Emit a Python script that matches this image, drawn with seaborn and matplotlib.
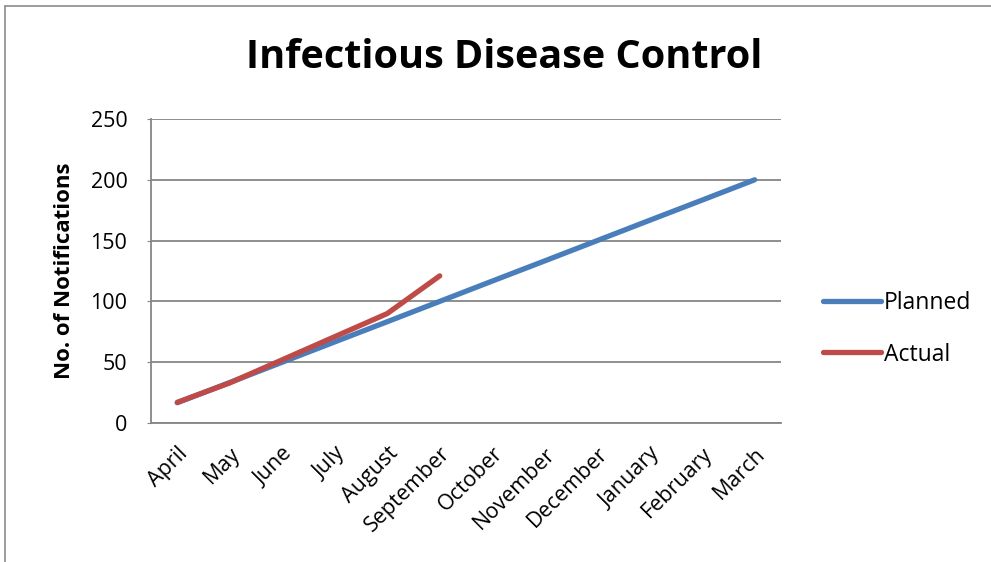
import pandas as pd
import matplotlib.pyplot as plt
import seaborn as sns
from matplotlib.lines import Line2D

# data
months = ['April', 'May', 'June', 'July', 'August', 'September', 'October',
          'November', 'December', 'January', 'February', 'March']
planned = [16.7, 33.3, 50, 66.7, 83.3, 100, 116.7, 133.3, 150, 166.7, 183.3, 200]
actual = [17, 33, 52, 71, 90, 121]

df = pd.concat([
    pd.DataFrame({'Month': months, 'Value': planned, 'Series': 'Planned'}),
    pd.DataFrame({'Month': months[:len(actual)], 'Value': actual, 'Series': 'Actual'}),
])

sns.set_style('white')
plt.rcParams['font.family'] = ['Open Sans', 'DejaVu Sans']
plt.rcParams['text.color'] = 'black'
plt.rcParams['xtick.color'] = 'black'
plt.rcParams['ytick.color'] = 'black'
plt.rcParams['axes.labelcolor'] = 'black'

fig = plt.figure(figsize=(9.91, 5.62), dpi=100)
ax = fig.add_axes([0.1524, 0.2473, 0.6356, 0.541])

# outer chart border: only top and left edges are visible in the reference
fig.add_artist(Line2D([5 / 991, 1], [1 - 6 / 562, 1 - 6 / 562], transform=fig.transFigure,
                      color='#8c8c8c', linewidth=1.2))
fig.add_artist(Line2D([5 / 991, 5 / 991], [0, 1 - 6 / 562], transform=fig.transFigure,
                      color='#8c8c8c', linewidth=1.2))

sns.lineplot(data=df, x='Month', y='Value', hue='Series', sort=False,
             palette={'Planned': '#4A7EBB', 'Actual': '#BE4B48'},
             linewidth=3.8, ax=ax, legend=False)
for line in ax.lines:
    line.set_solid_capstyle('round')
    line.set_solid_joinstyle('round')

ax.set_xlim(-0.5, 11.5)
ax.set_ylim(0, 250)
ax.set_yticks(range(0, 251, 50))
ax.yaxis.grid(True, color='#868686', linewidth=1.3)
ax.set_axisbelow(True)
for side in ['top', 'right']:
    ax.spines[side].set_visible(False)
for side in ['left', 'bottom']:
    ax.spines[side].set_color('#868686')
    ax.spines[side].set_linewidth(1.3)
ax.tick_params(axis='y', left=True, length=3, color='#868686', labelsize=15.5, pad=14)
ax.tick_params(axis='x', bottom=False, labelsize=15.5, pad=11)
plt.setp(ax.get_xticklabels(), rotation=45, ha='right', rotation_mode='anchor')

ax.set_xlabel('')
ax.set_ylabel('No. of Notifications', fontsize=16, fontweight='bold', labelpad=11)
fig.text(0.5086, 0.897, 'Infectious Disease Control', ha='center', va='center',
         fontsize=28.5, fontweight='bold')

# legend on the right
handles = [Line2D([], [], color='#4A7EBB', linewidth=3.8, solid_capstyle='round'),
           Line2D([], [], color='#BE4B48', linewidth=3.8, solid_capstyle='round')]
fig.legend(handles, ['Planned', 'Actual'], loc='center left',
           bbox_to_anchor=(0.810, 0.415), frameon=False, fontsize=16.5,
           handlelength=2.5, handletextpad=0.15, labelspacing=1.2)

fig.savefig('out.png', dpi=100)
